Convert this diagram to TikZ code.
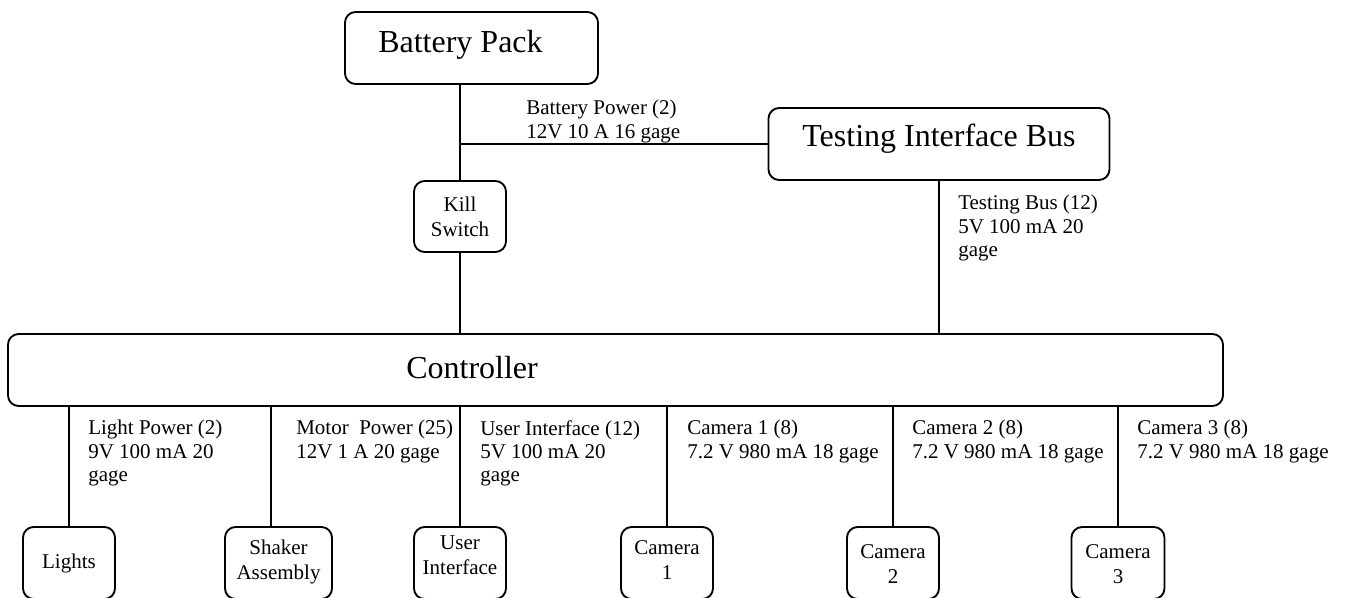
\documentclass[tikz,border=0pt]{standalone}
\usepackage{fontspec}
\setmainfont{Liberation Serif}
\usepackage{tikz}
\usetikzlibrary{positioning, calc}
\tikzset{
    block/.style={
        rectangle,
        draw=black,
        line width=1.4pt,
        rounded corners=8pt,
        inner sep=0pt,
        align=center,
        minimum height=54pt,
        font=\fontsize{15.75}{18.75}\selectfont
    },
    smallblock/.style={
        block,
        minimum width=69pt
    },
    bigtitle/.style={
        inner sep=0pt,
        font=\fontsize{24}{28}\selectfont
    },
    wire/.style={
        draw=black,
        line width=1.4pt
    },
    wirelabel/.style={
        anchor=north west,
        inner sep=0pt,
        align=left,
        font=\fontsize{15.75}{17.6}\selectfont
    }
}
\newcommand{\twolines}[3]{\raisebox{#1}[\height][\depth]{\begin{tabular}{@{}c@{}}#2\\#3\end{tabular}}}

\begin{document}
\begin{tikzpicture}[x=0.75pt, y=-0.75pt]
\useasboundingbox (0,0) rectangle (1347,597);

% Power source and test access
\node[block, minimum width=189.75pt] (battery) at (471.5,48) {};
\node[bigtitle, anchor=base west] (batterytxt) at (378,52) {Battery Pack};
\node[block, minimum width=255.75pt] (testbus) at (939,144) {};
\node[bigtitle, anchor=base] (testbustxt) at (939,146) {Testing Interface Bus};
\node[smallblock, minimum height=53.25pt] (kill) at (460,216.5) {Kill\\Switch};

% Main controller
\node[block, minimum width=911.25pt] (ctrl) at (615.5,370) {};
\node[bigtitle, anchor=base west] (ctrltxt) at (406,378) {Controller};

% Loads
\node[smallblock] (lights) at (69,563) {Lights};
\node[block, minimum width=80.25pt] (shaker) at (278.5,563) {\twolines{1pt}{Shaker}{Assembly}};
\node[smallblock] (ui) at (460,563) {\twolines{4.5pt}{User}{Interface}};
\node[smallblock] (cam1) at (667,563) {\twolines{1pt}{Camera}{1}};
\node[smallblock] (cam2) at (893,563) {\twolines{-2.5pt}{Camera}{2}};
\node[smallblock, minimum width=69.75pt] (cam3) at (1118,563) {\twolines{-2.5pt}{Camera}{3}};

% Connections
\draw[wire] (kill.north) -- (kill.north |- battery.south);
\draw[wire] (testbus.west) -- (testbus.west -| kill.north);
\draw[wire] (kill.south) -- (kill.south |- ctrl.north);
\draw[wire] (testbus.south) -- (testbus.south |- ctrl.north);
\draw[wire] (lights.north) -- (lights.north |- ctrl.south);
\draw[wire] ([xshift=-5.6pt]shaker.north) -- ([xshift=-5.6pt]shaker.north |- ctrl.south);
\draw[wire] (ui.north) -- (ui.north |- ctrl.south);
\draw[wire] (cam1.north) -- (cam1.north |- ctrl.south);
\draw[wire] (cam2.north) -- (cam2.north |- ctrl.south);
\draw[wire] (cam3.north) -- (cam3.north |- ctrl.south);

% Wire ratings
\node[wirelabel] (batpow) at (526,100) {Battery Power (2)\\12V 10 A 16 gage};
\node[wirelabel] (testpow) at (958,195) {Testing Bus (12)\\5V 100 mA 20\\gage};
\node[wirelabel] (lightpow) at (88,420) {Light Power (2)\\9V 100 mA 20\\gage};
\node[wirelabel] (motorpow) at (296,420) {Motor~ Power (25)\\12V 1 A 20 gage};
\node[wirelabel] (uipow) at (480,420) {User Interface (12)\\5V 100 mA 20\\gage};
\node[wirelabel] (cam1pow) at (687,420) {Camera 1 (8)\\7.2 V 980 mA 18 gage};
\node[wirelabel] (cam2pow) at (912,420) {Camera 2 (8)\\7.2 V 980 mA 18 gage};
\node[wirelabel] (cam3pow) at (1137,420) {Camera 3 (8)\\7.2 V 980 mA 18 gage};

\end{tikzpicture}
\end{document}
